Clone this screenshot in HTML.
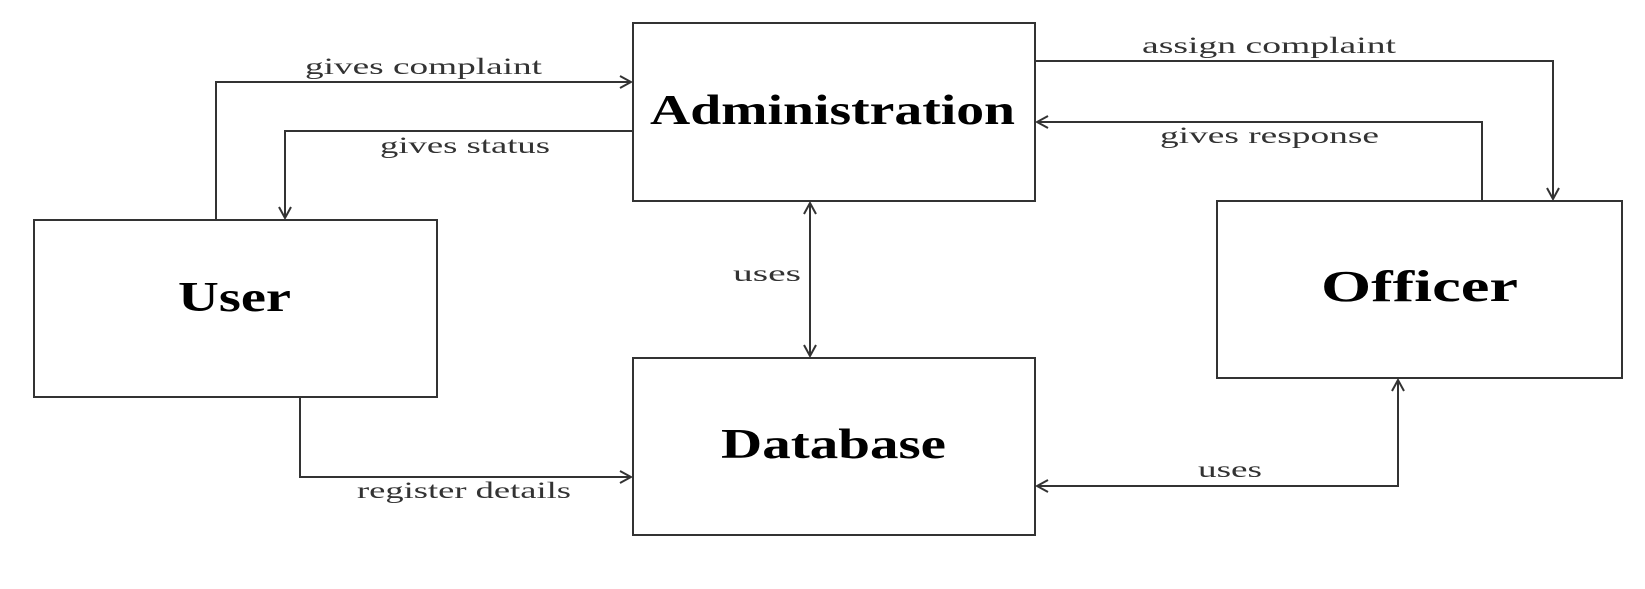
<!DOCTYPE html>
<html><head><meta charset="utf-8"><style>
html,body{margin:0;padding:0;background:#fff;}
svg{display:block;}
.t{font-family:"Liberation Serif",serif;font-weight:bold;fill:#000;}
.l{font-family:"Liberation Serif",serif;font-size:23px;fill:#333;}
</style></head><body>
<svg width="1645" height="589" viewBox="0 0 1645 589" xmlns="http://www.w3.org/2000/svg">
<defs>
<marker id="a" markerWidth="14" markerHeight="14" refX="12" refY="7" orient="auto" markerUnits="userSpaceOnUse">
<path d="M1,1 L12,7 L1,13" fill="none" stroke="#333" stroke-width="2"/>
</marker>
<marker id="s" markerWidth="14" markerHeight="14" refX="2" refY="7" orient="auto" markerUnits="userSpaceOnUse">
<path d="M13,1 L2,7 L13,13" fill="none" stroke="#333" stroke-width="2"/>
</marker>
</defs>
<g fill="none" stroke="#333" stroke-width="2">
<rect x="633" y="23" width="402" height="178"/>
<rect x="34" y="220" width="403" height="177"/>
<rect x="633" y="358" width="402" height="177"/>
<rect x="1217" y="201" width="405" height="177"/>
<polyline points="216,220 216,82 631,82" marker-end="url(#a)"/>
<polyline points="633,131 285,131 285,218" marker-end="url(#a)"/>
<polyline points="300,397 300,477 631,477" marker-end="url(#a)"/>
<polyline points="1035,61 1553,61 1553,199" marker-end="url(#a)"/>
<polyline points="1482,201 1482,122 1037,122" marker-end="url(#a)"/>
<polyline points="1037,486 1398,486 1398,380" marker-start="url(#s)" marker-end="url(#a)"/>
<line x1="810" y1="203" x2="810" y2="356" marker-start="url(#s)" marker-end="url(#a)"/>
</g>
<text class="t" x="650" y="124" font-size="42" textLength="365" lengthAdjust="spacingAndGlyphs">Administration</text>
<text class="t" x="178" y="311" font-size="42" textLength="113" lengthAdjust="spacingAndGlyphs">User</text>
<text class="t" x="721" y="458" font-size="42" textLength="225" lengthAdjust="spacingAndGlyphs">Database</text>
<text class="t" x="1321" y="301" font-size="44" textLength="197" lengthAdjust="spacingAndGlyphs">Officer</text>
<text class="l" x="305" y="74" textLength="237" lengthAdjust="spacingAndGlyphs">gives complaint</text>
<text class="l" x="380" y="153" textLength="170" lengthAdjust="spacingAndGlyphs">gives status</text>
<text class="l" x="357" y="498" textLength="214" lengthAdjust="spacingAndGlyphs">register details</text>
<text class="l" x="1142" y="53" textLength="254" lengthAdjust="spacingAndGlyphs">assign complaint</text>
<text class="l" x="1160" y="143" textLength="219" lengthAdjust="spacingAndGlyphs">gives response</text>
<text class="l" x="1198" y="477" textLength="64" lengthAdjust="spacingAndGlyphs">uses</text>
<text class="l" x="733" y="281" textLength="68" lengthAdjust="spacingAndGlyphs">uses</text>
</svg>
</body></html>
